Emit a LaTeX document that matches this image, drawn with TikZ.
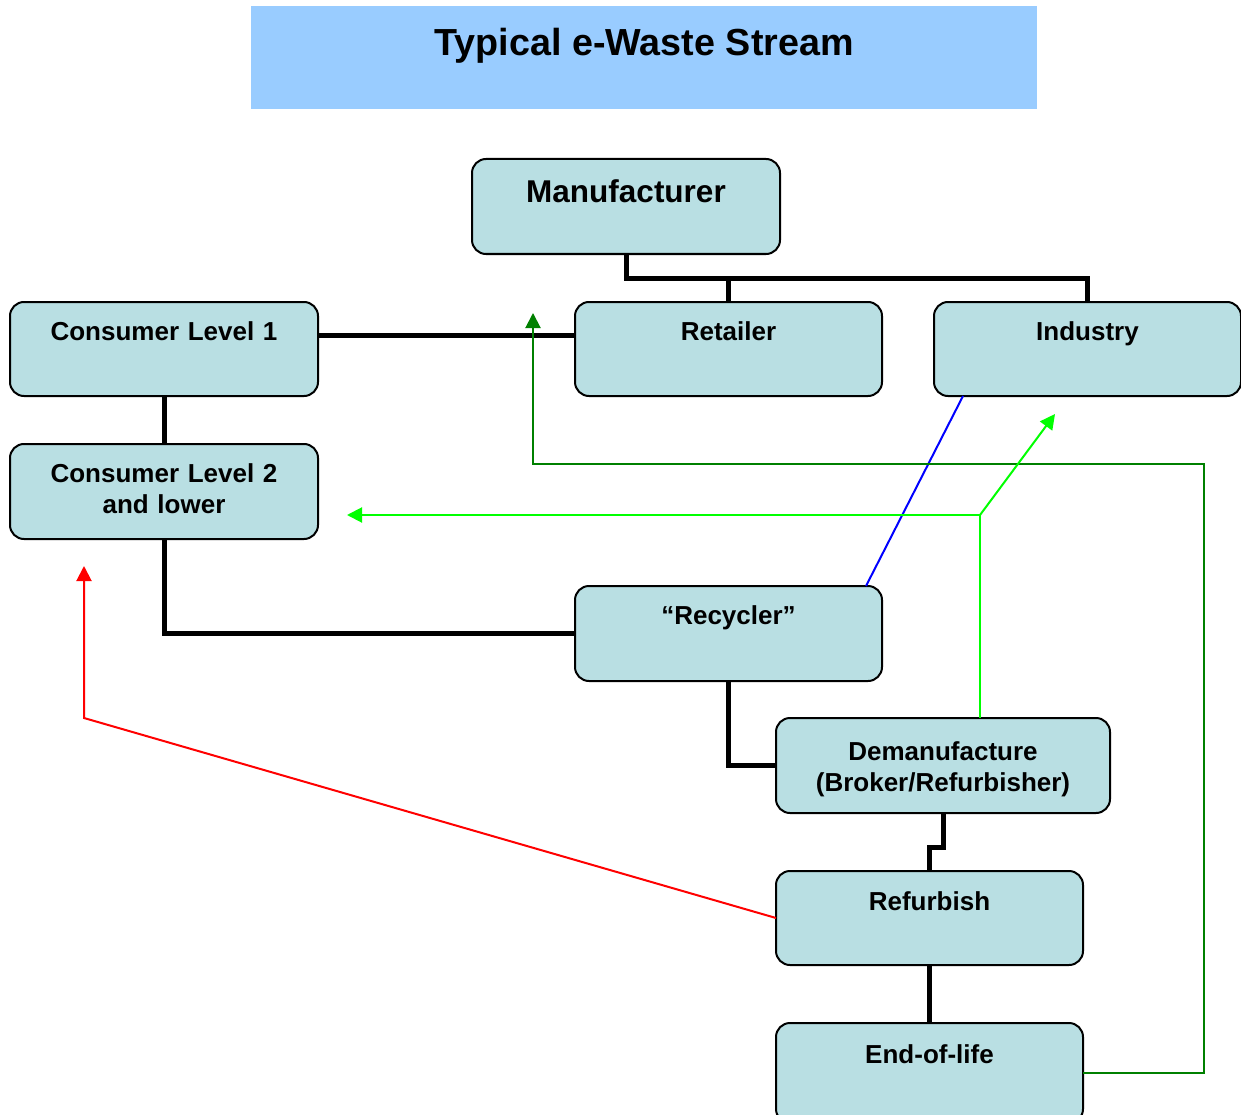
\documentclass[tikz,border=0pt]{standalone}
\usepackage{fontspec}
\setmainfont{Liberation Sans}
\usetikzlibrary{arrows.meta,calc}
\definecolor{boxfill}{RGB}{185,223,227}
\definecolor{titlefill}{RGB}{153,204,255}
\definecolor{dkgreen}{RGB}{0,128,0}
\definecolor{ltgreen}{RGB}{0,255,0}
\begin{document}
\begin{tikzpicture}[x=1pt,y=-1pt,
  box/.style={draw=black,line width=2pt,fill=boxfill,rounded corners=14pt,
    anchor=north west,inner xsep=0pt,inner ysep=0pt,outer sep=0pt,align=center,
    font=\bfseries\fontsize{26}{31.5}\selectfont},
  conn/.style={line width=5pt,draw=black},
  thin/.style={line width=2pt},
  tip/.style={-{Triangle[length=15pt,width=15pt]}}
]
\useasboundingbox (0,0) rectangle (1241,1115);
% title
\node[anchor=north west,fill=titlefill,inner sep=0pt,minimum width=786pt,
  text height=49pt,text depth=54pt,font=\bfseries\fontsize{37.7}{44}\selectfont]
  (title) at (251,6) {Typical e-Waste Stream};
% boxes
\node[box,text width=308pt,text height=43.5pt,text depth=51.5pt,
  font=\bfseries\fontsize{31.5}{38}\selectfont] (man) at (472,159) {Manufacturer};
\node[box,text width=308pt,text height=38pt,text depth=56pt] (cl1) at (10,302) {Consumer Level 1};
\node[box,text width=307pt,text height=38pt,text depth=56pt] (ret) at (575,302) {Retailer};
\node[box,text width=307pt,text height=38pt,text depth=56pt] (ind) at (934,302) {Industry};
\node[box,text width=308pt,text height=38pt,text depth=57pt] (cl2) at (10,444) {Consumer Level 2\\and lower};
\node[box,text width=307pt,text height=38pt,text depth=57pt] (rec) at (575,586) {``Recycler''};
\node[box,text width=334pt,text height=42pt,text depth=53pt] (dem) at (776,718) {Demanufacture\\(Broker/Refurbisher)};
\node[box,text width=307pt,text height=39pt,text depth=55pt] (ref) at (776,871) {Refurbish};
\node[box,text width=307pt,text height=40pt,text depth=60pt] (eol) at (776,1023) {End-of-life};
% black connectors
\draw[conn] (man.south) -- ++(0,24) coordinate (mj) -| (ind.north);
\draw[conn] (ret.north) -- (ret.north |- mj);
\draw[conn] ([yshift=-33pt]cl1.north east) -- ([yshift=-33pt]ret.north west);
\draw[conn] (cl1.south) -- (cl2.north);
\draw[conn] (cl2.south) |- (rec.west);
\draw[conn] (rec.south) |- (dem.west);
\draw[conn] (dem.south) -- ++(0,34) -| (ref.north);
\draw[conn] (ref.south) -- (eol.north);
% coloured connectors
\draw[thin,blue] ([xshift=29pt]ind.south west) -- ([xshift=291pt]rec.north west);
\coordinate (g1) at (533,313);
\draw[thin,dkgreen,tip] ([yshift=-50pt]eol.north east) -- (1204,1073) -- (1204,464) -- (533,464) -- (g1);
\draw[thin,ltgreen] ([xshift=204pt]dem.north west) -- (980,515) coordinate (gj);
\coordinate (g2) at (347,515);
\coordinate (g3) at (1055,414);
\draw[thin,ltgreen,tip] (gj) -- (g2);
\draw[thin,ltgreen,tip] (gj) -- (g3);
\coordinate (r1) at (84,566);
\draw[thin,red,tip] (ref.west) -- (84,718) -- (r1);
\end{tikzpicture}
\end{document}
